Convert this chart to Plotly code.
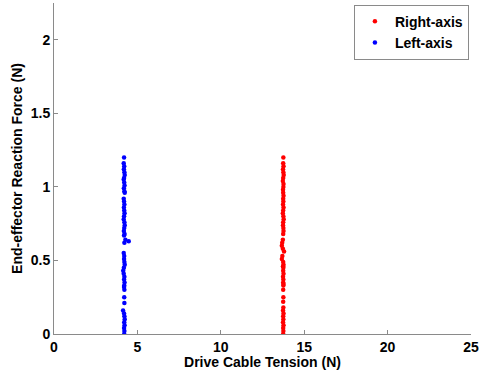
import plotly.graph_objects as go

# Right-axis measurements: drive cable tension (N) vs end-effector reaction force (N)
right_tension = [13.75, 13.74, 13.76, 13.73, 13.75, 13.77, 13.74, 13.72, 13.76, 13.75, 13.73, 13.74, 13.76,
                 13.74, 13.75, 13.73, 13.76, 13.74, 13.72, 13.75, 13.77, 13.74, 13.73, 13.75, 13.76, 13.74,
                 13.72, 13.68, 13.66, 13.72, 13.79, 13.69, 13.66, 13.74, 13.76, 13.73,
                 13.75, 13.74, 13.76, 13.73, 13.75, 13.74, 13.76, 13.75,
                 13.74, 13.75, 13.74,
                 13.75, 13.73, 13.76, 13.74, 13.75, 13.73, 13.76, 13.74, 13.75, 13.74]
right_force = [1.20, 1.16, 1.14, 1.12, 1.10, 1.08, 1.06, 1.04, 1.02, 1.00, 0.98, 0.96, 0.94,
               0.92, 0.90, 0.88, 0.86, 0.84, 0.82, 0.80, 0.78, 0.76, 0.74, 0.72, 0.70, 0.68,
               0.64, 0.62, 0.60, 0.58, 0.56, 0.53, 0.51, 0.49, 0.47, 0.46,
               0.45, 0.43, 0.41, 0.39, 0.37, 0.35, 0.34, 0.33,
               0.30, 0.25, 0.22,
               0.18, 0.16, 0.14, 0.12, 0.10, 0.08, 0.06, 0.04, 0.02, 0.00]

# Left-axis measurements
left_tension = [4.20, 4.18, 4.21, 4.19, 4.22, 4.24, 4.20, 4.18, 4.21, 4.23, 4.19, 4.22, 4.24,
                4.18, 4.20, 4.22, 4.19, 4.21, 4.23, 4.20, 4.18, 4.22, 4.24, 4.21, 4.19, 4.23, 4.20,
                4.28, 4.48, 4.22,
                4.18, 4.21, 4.20, 4.22, 4.24, 4.19, 4.15, 4.18, 4.22, 4.20, 4.23, 4.21, 4.20,
                4.22, 4.21, 4.22,
                4.14, 4.20, 4.22, 4.24, 4.21, 4.23, 4.20, 4.22, 4.21]
left_force = [1.20, 1.16, 1.14, 1.12, 1.10, 1.08, 1.06, 1.05, 1.03, 1.01, 0.99, 0.97, 0.96,
              0.92, 0.90, 0.88, 0.86, 0.84, 0.82, 0.80, 0.78, 0.76, 0.74, 0.72, 0.70, 0.68, 0.67,
              0.64, 0.63, 0.62,
              0.55, 0.53, 0.51, 0.49, 0.47, 0.45, 0.43, 0.41, 0.39, 0.37, 0.35, 0.33, 0.32,
              0.30, 0.25, 0.21,
              0.16, 0.14, 0.12, 0.10, 0.08, 0.06, 0.04, 0.02, 0.00]

x_ticks = [0, 5, 10, 15, 20, 25]
y_ticks = [0, 0.5, 1, 1.5, 2]
y_tick_text = ["0", "0.5", "1", "1.5", "2"]

font_family = "Liberation Sans, Arial, sans-serif"
axis_grey = "#8a8a8a"
bold14 = dict(size=14, family=font_family, color="black", weight="bold")

fig = go.Figure()
fig.add_trace(go.Scatter(
    x=right_tension, y=right_force, mode="markers", name="Right-axis",
    marker=dict(color="#ff0000", size=4.5, line=dict(width=0)),
))
fig.add_trace(go.Scatter(
    x=left_tension, y=left_force, mode="markers", name="Left-axis",
    marker=dict(color="#0000ff", size=4.5, line=dict(width=0)),
))

fig.update_layout(
    width=484, height=370,
    margin=dict(l=54, r=13, t=3, b=36),
    paper_bgcolor="white", plot_bgcolor="white",
    font=dict(family=font_family, size=14, color="black"),
    showlegend=True,
    legend=dict(
        x=0.995, xanchor="right", y=0.995, yanchor="top",
        bgcolor="white", bordercolor=axis_grey, borderwidth=1,
        font=bold14, itemsizing="trace", itemwidth=30, tracegroupgap=0,
    ),
    xaxis=dict(
        range=[0, 25], tickvals=x_ticks, ticks="inside", ticklen=4,
        tickcolor=axis_grey, showline=True, linecolor=axis_grey, linewidth=1,
        showgrid=False, zeroline=False, tickfont=bold14,
        title=dict(text="Drive Cable Tension (N)", standoff=1, font=bold14),
    ),
    yaxis=dict(
        range=[0, 2.25], tickvals=y_ticks, ticktext=y_tick_text, ticks="inside", ticklen=4,
        tickcolor=axis_grey, showline=True, linecolor=axis_grey, linewidth=1,
        showgrid=False, zeroline=False, tickfont=bold14,
        title=dict(text="End-effector Reaction Force (N)", standoff=4, font=bold14),
    ),
)

fig.write_html("out.html")
